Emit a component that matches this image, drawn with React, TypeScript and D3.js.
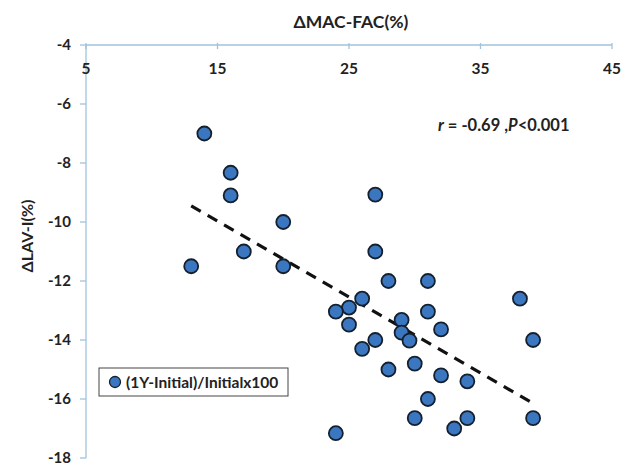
import React from "react";
import * as d3 from "d3";

const xValues = [14, 16, 16, 27, 20, 17, 27, 13, 20, 28, 31, 26, 38, 25, 24, 31, 29, 25, 32, 29, 27, 29.6, 39, 26, 30, 28, 32, 34, 31, 30, 34, 39, 33, 24];
const yValues = [-7, -8.33, -9.1, -9.07, -10, -11, -11, -11.5, -11.5, -12, -12, -12.6, -12.6, -12.9, -13.04, -13.04, -13.32, -13.48, -13.64, -13.75, -14, -14.02, -14, -14.3, -14.8, -15, -15.2, -15.4, -16, -16.65, -16.65, -16.65, -17, -17.16];
const trendX = [13, 39];
const trendY = [-9.45, -16.15];
const xTicks = [5, 15, 25, 35, 45];
const yTicks = [-4, -6, -8, -10, -12, -14, -16, -18];
const xTitle = "ΔMAC-FAC(%)";
const yTitle = "ΔLAV-I(%)";
const legendLabel = "(1Y-Initial)/Initialx100";

const W = 639;
const H = 464;
const FONT = "Lato, 'Open Sans', sans-serif";
const AXIS = "#9fc3dc";

export default function App() {
  const x = d3.scaleLinear().domain([5, 45]).range([86, 612]);
  const y = d3.scaleLinear().domain([-4, -18]).range([45, 458]);
  const line = d3
    .line<number>()
    .x((d) => x(trendX[d]))
    .y((d) => y(trendY[d]));

  return (
    <svg
      width={W}
      height={H}
      style={{ position: "absolute", left: 0, top: 0, background: "#fff" }}
      fontFamily={FONT}
    >
      <rect width={W} height={H} fill="#fff" />
      {/* title */}
      <text x={351} y={28} textAnchor="middle" fontSize={17.5} fontWeight="bold" fill="#222">
        {xTitle}
      </text>
      {/* y title */}
      <text
        transform={`translate(33,236) rotate(-90)`}
        textAnchor="middle"
        fontSize={16}
        fontWeight="bold"
        fill="#222"
      >
        {yTitle}
      </text>
      {/* axes */}
      <line x1={x(5)} x2={x(45)} y1={y(-4)} y2={y(-4)} stroke={AXIS} strokeWidth={1.3} />
      <line x1={x(5)} x2={x(5)} y1={y(-4)} y2={y(-18)} stroke={AXIS} strokeWidth={1.3} />
      {xTicks.map((t) => (
        <g key={"xt" + t}>
          <line x1={x(t)} x2={x(t)} y1={y(-4) - 2} y2={y(-4) + 4} stroke={AXIS} strokeWidth={1.3} />
          <text x={x(t)} y={y(-4) + 29} textAnchor="middle" fontSize={15.5} fontWeight="bold" fill="#222">
            {t}
          </text>
        </g>
      ))}
      {yTicks.map((t) => (
        <g key={"yt" + t}>
          <line x1={x(5) - 6} x2={x(5)} y1={y(t)} y2={y(t)} stroke={AXIS} strokeWidth={1.3} />
          <text x={71} y={y(t) + 5} textAnchor="end" fontSize={15} fontWeight="bold" fill="#222">
            {t}
          </text>
        </g>
      ))}
      {/* trend line */}
      <path
        d={line([0, 1]) || ""}
        fill="none"
        stroke="#111"
        strokeWidth={3.2}
        strokeDasharray="11 8"
      />
      {/* points */}
      {xValues.map((xv, i) => (
        <circle
          key={"p" + i}
          cx={x(xv)}
          cy={y(yValues[i])}
          r={7}
          fill="#3b77c1"
          stroke="#15202e"
          strokeWidth={1.8}
        />
      ))}
      {/* annotation */}
      <text x={438} y={131} fontSize={16.5} fontWeight="bold" fill="#222">
        <tspan fontStyle="italic">r</tspan>
        <tspan> = -0.69 ,</tspan>
        <tspan fontStyle="italic">P</tspan>
        <tspan>&lt;0.001</tspan>
      </text>
      {/* legend */}
      <rect x={99} y={368} width={189} height={28} fill="#fff" stroke="#444" strokeWidth={1} />
      <circle cx={115} cy={382} r={5.5} fill="#3b77c1" stroke="#15202e" strokeWidth={1.3} />
      <text x={126} y={387.5} fontSize={15.5} fontWeight="bold" fill="#222">
        {legendLabel}
      </text>
    </svg>
  );
}
